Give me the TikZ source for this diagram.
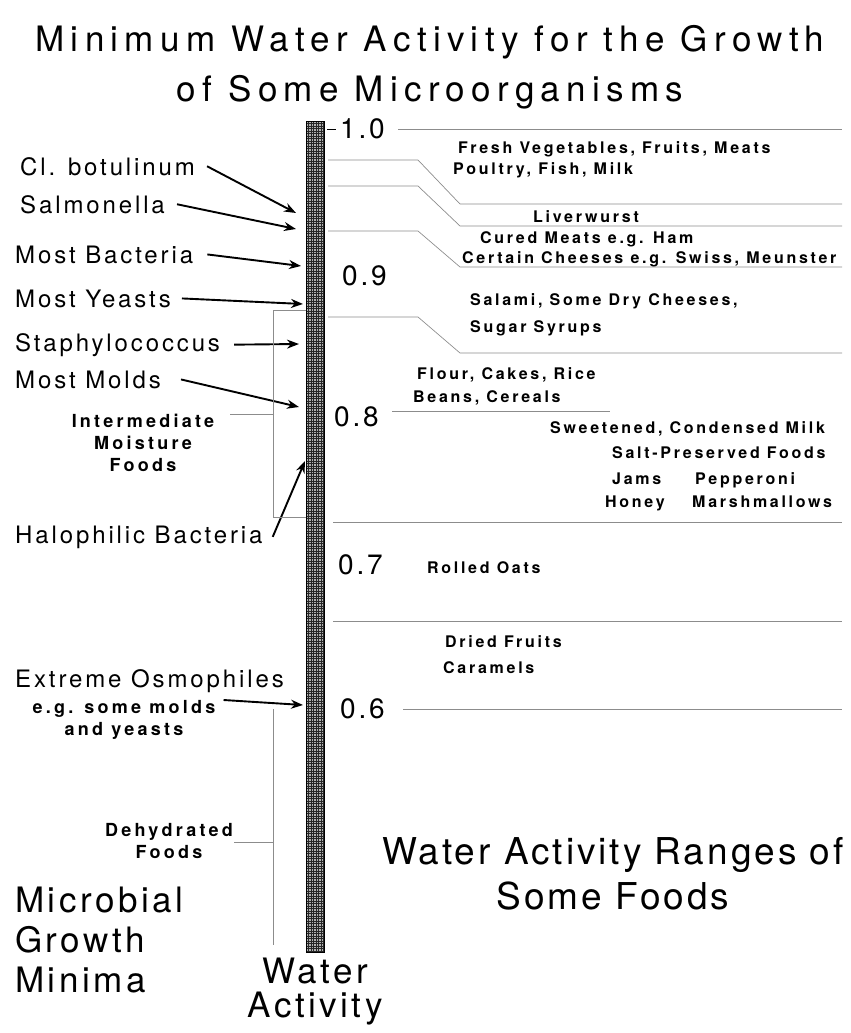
\documentclass[tikz,border=0pt]{standalone}
\usepackage{fontspec}
\setmainfont{TeX Gyre Heros}
\newfontfamily\titlefont[LetterSpace=18]{TeX Gyre Heros}
\newfontfamily\bigfont[LetterSpace=10]{TeX Gyre Heros}
\newfontfamily\rangefont[LetterSpace=8]{TeX Gyre Heros}
\newfontfamily\microbefont[LetterSpace=12]{TeX Gyre Heros}
\newfontfamily\foodfont[LetterSpace=17]{TeX Gyre Heros}
\newfontfamily\notefont[LetterSpace=18]{TeX Gyre Heros}
\usetikzlibrary{arrows.meta}

\begin{document}
\begin{tikzpicture}[x=1pt, y=-1pt,
    microbe/.style={anchor=base west, inner sep=0pt, font={\microbefont\fontsize{24}{28}\selectfont}},
    food/.style={anchor=base west, inner sep=0pt, font={\foodfont\bfseries\fontsize{16}{20}\selectfont}},
    note/.style={anchor=north, inner sep=0pt, align=center, font={\notefont\bfseries\fontsize{18}{22}\selectfont}},
    tickval/.style={anchor=base west, inner sep=0pt, font={\bigfont\fontsize{28}{32}\selectfont}},
    heading/.style={anchor=north, inner sep=0pt, font={\bigfont\fontsize{35}{34}\selectfont}},
    rangeline/.style={draw=black!45, line width=0.7pt},
    pointer/.style={draw=black, line width=1.9pt, -{Stealth[length=12pt, width=9pt]}},
    mesh/.style={draw=black!85, line width=0.8pt}]
  \useasboundingbox (0,0) rectangle (851,1033);

  \node[heading, align=center, font={\titlefont\fontsize{35}{50}\selectfont}] (title) at (430,25)
    {Minimum Water Activity for the Growth\\of Some Microorganisms};

  % water activity scale
  \fill[black!30] (306,121) rectangle (324,952);
  \foreach \gx in {306.0,308.5,...,324.0} \draw[mesh] (\gx,121) -- (\gx,952);
  \foreach \gy in {121,123.5,...,952} \draw[mesh] (306,\gy) -- (324,\gy);
  \draw[black, line width=0.8pt] (306,121) rectangle (324,952);
  \draw[black, line width=1pt] (327,129) -- (336,129);
  \node[tickval] (aw10) at (340,138) {1.0};
  \node[tickval] (aw09) at (342,285) {0.9};
  \node[tickval] (aw08) at (334,426) {0.8};
  \node[tickval] (aw07) at (338,574) {0.7};
  \node[tickval] (aw06) at (340,718) {0.6};
  \node[heading, align=center] (wa) at (315,958) {Water\\Activity};

  % food ranges
  \draw[rangeline] (398,129) -- (842,129);
  \draw[rangeline] (328,160) -- (418,160) -- (460,204) -- (842,204);
  \draw[rangeline] (328,186) -- (418,186) -- (460,226) -- (842,226);
  \draw[rangeline] (328,231) -- (418,231) -- (460,267) -- (842,267);
  \draw[rangeline] (328,317) -- (418,317) -- (460,353) -- (842,353);
  \draw[rangeline] (392,411) -- (610,411);
  \draw[rangeline] (333,522) -- (842,522);
  \draw[rangeline] (333,621) -- (842,621);
  \draw[rangeline] (403,709) -- (842,709);

  \node[food] (fresh) at (458,153) {Fresh Vegetables, Fruits, Meats};
  \node[food] (poultry) at (453,174) {Poultry, Fish, Milk};
  \node[food] (liver) at (533,222) {Liverwurst};
  \node[food] (cured) at (480,243) {Cured Meats e.g. Ham};
  \node[food] (cheese) at (462,263) {Certain Cheeses e.g. Swiss, Meunster};
  \node[food] (salami) at (470,305) {Salami, Some Dry Cheeses,};
  \node[food] (syrup) at (470,332) {Sugar Syrups};
  \node[food] (flour) at (417,379) {Flour, Cakes, Rice};
  \node[food] (beans) at (413,402) {Beans, Cereals};
  \node[food] (milk) at (550,433) {Sweetened, Condensed Milk};
  \node[food] (salt) at (612,458) {Salt-Preserved Foods};
  \node[food] (jams) at (612,484) {Jams};
  \node[food] (pepp) at (695,484) {Pepperoni};
  \node[food] (honey) at (605,507) {Honey};
  \node[food] (marsh) at (692,507) {Marshmallows};
  \node[food] (oats) at (427,573) {Rolled Oats};
  \node[food] (dried) at (445,647) {Dried Fruits};
  \node[food] (caramel) at (443,673) {Caramels};
  \node[heading, align=center, font={\rangefont\fontsize{37}{45}\selectfont}] (ranges) at (613,837)
    {Water Activity Ranges of\\Some Foods};

  % growth minima
  \node[microbe] (botul) at (20,175) {Cl. botulinum};
  \node[microbe] (salmo) at (20,213) {Salmonella};
  \node[microbe] (bact) at (15,263) {Most Bacteria};
  \node[microbe] (yeast) at (15,307) {Most Yeasts};
  \node[microbe] (staph) at (15,351) {Staphylococcus};
  \node[microbe] (molds) at (15,388) {Most Molds};
  \node[microbe] (halo) at (15,543) {Halophilic Bacteria};
  \node[microbe] (osmo) at (15,687) {Extreme Osmophiles};
  \node[note] (osmonote) at (124,700) {e.g. some molds\\and yeasts};
  \node[note] (imf) at (143,414) {Intermediate\\Moisture\\Foods};
  \node[note] (dehyd) at (169,823) {Dehydrated\\Foods};
  \node[heading, anchor=north west, align=left, font={\bigfont\fontsize{35}{40}\selectfont}] (minima) at (15,887)
    {Microbial\\Growth\\Minima};

  \coordinate (botul-tip) at (296,213);
  \coordinate (salmo-tip) at (296,229);
  \coordinate (bact-tip) at (301,266);
  \coordinate (yeast-tip) at (303,304);
  \coordinate (staph-tip) at (299,344);
  \coordinate (molds-tip) at (299,407);
  \coordinate (halo-tip) at (305,461);
  \coordinate (osmo-tip) at (303,705);
  \draw[pointer] ([xshift=12pt]botul.east) -- (botul-tip);
  \draw[pointer] ([xshift=12pt]salmo.east) -- (salmo-tip);
  \draw[pointer] ([xshift=14pt]bact.east) -- (bact-tip);
  \draw[pointer] ([xshift=11pt]yeast.east) -- (yeast-tip);
  \draw[pointer] ([xshift=14pt]staph.east) -- (staph-tip);
  \draw[pointer] ([xshift=20pt]molds.east) -- (molds-tip);
  \draw[pointer] ([xshift=10pt]halo.east) -- (halo-tip);
  \draw[pointer] ([xshift=8pt]osmonote.north east) -- (osmo-tip);

  \draw[rangeline] (306,310) -- (273,310) -- (273,517) -- (306,517);
  \draw[rangeline] (230,414) -- (273,414);
  \draw[rangeline] (273,709) -- (273,945);
  \draw[rangeline] (234,842) -- (273,842);
\end{tikzpicture}
\end{document}
